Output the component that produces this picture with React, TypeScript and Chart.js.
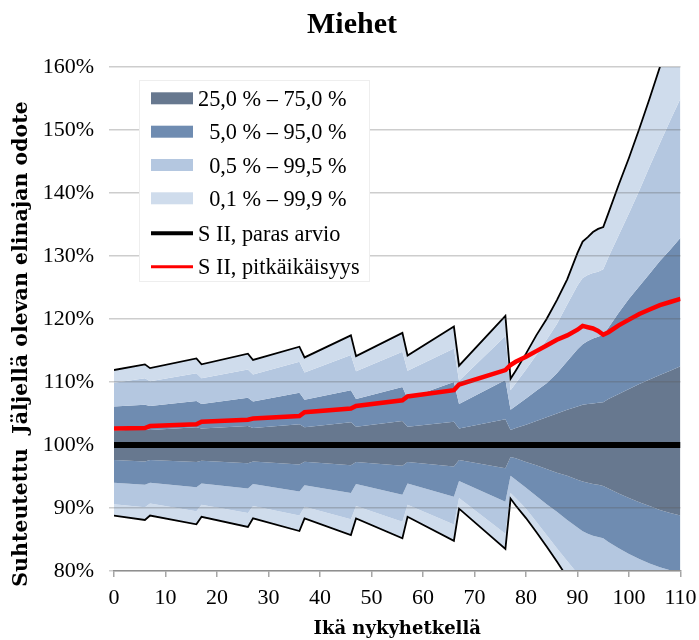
import { useEffect, useRef } from 'react';
import { Chart, registerables } from 'chart.js';

Chart.register(...registerables);

if (typeof document !== 'undefined') {
  document.body.style.margin = '0';
  document.body.style.overflow = 'hidden';
}

// ---- data ----
const chartTitle = 'Miehet';
const xTitle = 'Ikä nykyhetkellä';
const yTitle = 'Suhteutettu  Jäljellä olevan elinajan odote';

const years = [0, 6, 7, 16, 17, 26, 27, 36, 37, 46, 47, 56, 57, 66, 67, 76, 77, 78, 80, 82, 84, 86, 88, 90, 91, 92, 93, 94, 95, 96, 98, 100, 102, 104, 106, 108, 110];

const p999 = [111.9, 112.8, 112.2, 113.75, 112.8, 114.5, 113.5, 115.6, 113.9, 117.4, 114.1, 117.8, 114.2, 118.8, 112.6, 120.5, 110.5, 111.8, 114.5, 117.4, 120.0, 123.0, 126.3, 130.5, 132.3, 133.0, 133.8, 134.3, 134.6, 136.8, 141.3, 145.6, 150.2, 155.0, 160.0, 165.2, 170.5];
const p995 = [109.9, 110.6, 110.1, 111.4, 110.6, 112.0, 111.2, 113.2, 111.5, 114.3, 111.7, 114.8, 111.8, 115.3, 110.2, 117.3, 108.7, 109.8, 112.0, 114.3, 116.7, 119.2, 122.3, 125.3, 126.5, 127.0, 127.3, 127.5, 127.9, 129.8, 133.3, 136.8, 140.4, 144.2, 147.9, 151.5, 155.0];
const p95 = [106.1, 106.4, 106.2, 107.0, 106.5, 107.5, 106.9, 108.3, 107.2, 108.7, 107.3, 109.2, 107.4, 110.0, 106.5, 110.3, 105.6, 106.2, 107.4, 108.6, 109.8, 111.4, 113.3, 115.2, 116.0, 116.5, 116.9, 117.2, 117.5, 118.6, 121.0, 123.2, 125.2, 127.2, 129.2, 131.0, 132.9];
const p75 = [102.3, 102.5, 102.4, 102.8, 102.6, 103.0, 102.7, 103.3, 102.8, 103.6, 102.9, 103.8, 102.9, 103.7, 102.6, 104.1, 102.4, 102.7, 103.2, 103.8, 104.4, 105.0, 105.6, 106.1, 106.4, 106.5, 106.6, 106.7, 106.8, 107.3, 108.1, 108.9, 109.7, 110.4, 111.1, 111.8, 112.5];
const p25 = [97.6, 97.4, 97.6, 97.3, 97.5, 97.1, 97.4, 96.9, 97.35, 96.8, 97.3, 96.7, 97.3, 96.6, 97.6, 96.3, 98.1, 97.9, 97.3, 96.8, 96.2, 95.6, 95.1, 94.5, 94.2, 94.0, 93.8, 93.7, 93.5, 93.1, 92.3, 91.6, 90.9, 90.3, 89.7, 89.2, 88.8];
const p5 = [94.0, 93.7, 94.0, 93.3, 93.9, 93.1, 93.8, 92.6, 93.6, 92.4, 93.8, 92.1, 93.9, 91.8, 94.3, 91.0, 95.1, 94.5, 93.2, 91.9, 90.6, 89.4, 88.1, 86.9, 86.3, 85.9, 85.6, 85.4, 85.2, 84.6, 83.6, 82.7, 81.9, 81.2, 80.6, 80.1, 79.7];
const p05 = [90.6, 90.1, 90.7, 89.5, 90.5, 89.2, 90.3, 88.8, 90.2, 88.2, 90.3, 87.8, 90.5, 87.4, 91.6, 85.9, 92.4, 91.6, 89.9, 87.8, 85.7, 83.6, 81.6, 79.6, 78.7, 77.9, 77.2, 76.8, 76.4, 75.6, 74.0, 72.5, 71.0, 69.6, 68.3, 67.0, 65.8];
const p001 = [88.8, 88.1, 88.8, 87.4, 88.6, 87.0, 88.35, 86.35, 88.35, 85.7, 88.35, 85.2, 88.6, 84.8, 89.9, 83.5, 91.5, 90.4, 88.4, 86.2, 83.9, 81.5, 79.0, 76.5, 75.3, 74.2, 73.3, 72.6, 72.2, 71.3, 69.3, 67.3, 65.5, 63.6, 61.8, 60.0, 58.0];
const longevity = [102.6, 102.7, 103.0, 103.3, 103.7, 104.0, 104.2, 104.6, 105.2, 105.8, 106.2, 107.1, 107.7, 108.7, 109.6, 111.9, 112.7, 113.2, 114.0, 114.9, 115.8, 116.7, 117.4, 118.3, 118.9, 118.7, 118.5, 118.1, 117.5, 117.9, 119.0, 119.9, 120.8, 121.5, 122.2, 122.7, 123.2];
const bestYears = [0, 110];
const bestEstimate = [100, 100];

const legendLabels = ['25,0 % – 75,0 %', '5,0 % – 95,0 %', '0,5 % – 99,5 %', '0,1 % – 99,9 %', 'S II, paras arvio', 'S II, pitkäikäisyys'];

const C_DARK = '#67788f';
const C_MID = '#6f8cb1';
const C_LIGHT = '#b4c7e0';
const C_LIGHTEST = '#cfdcec';
const C_RED = '#ff0000';
const C_BLACK = '#000000';

const SERIF = "'Liberation Serif', serif";
const SERIF_B = "'DejaVu Serif', serif";

const pts = (xs: number[], ys: number[]) => xs.map((x, i) => ({ x, y: ys[i] }));

const overlayPlugin = {
  id: 'overlay',
  afterDraw(chart: any) {
    const ctx = chart.ctx as CanvasRenderingContext2D;
    ctx.save();
    // title
    ctx.fillStyle = '#000';
    ctx.font = `bold 30px ${SERIF}`;
    ctx.textAlign = 'center';
    ctx.textBaseline = 'alphabetic';
    ctx.fillText(chartTitle, 352, 33);

    // y axis title
    ctx.save();
    ctx.translate(22, 344);
    ctx.rotate(-Math.PI / 2);
    ctx.font = `bold 20.5px ${SERIF_B}`;
    ctx.textAlign = 'center';
    ctx.textBaseline = 'middle';
    ctx.fillText(yTitle, 0, 0);
    ctx.restore();

    // legend box
    ctx.fillStyle = '#ffffff';
    ctx.fillRect(139, 80, 231, 202);
    ctx.strokeStyle = '#eeeeee';
    ctx.lineWidth = 1;
    ctx.strokeRect(139.5, 80.5, 230, 201);

    const rows = [98.3, 131.7, 165, 198.3, 233.3, 266.7];
    const bandColors = [C_DARK, C_MID, C_LIGHT, C_LIGHTEST];
    ctx.font = `22.3px ${SERIF}`;
    ctx.fillStyle = '#000';
    const textX = 198;
    const firstW = ctx.measureText(legendLabels[0]).width;
    for (let i = 0; i < 6; i++) {
      const y = rows[i];
      if (i < 4) {
        ctx.fillStyle = bandColors[i];
        ctx.fillRect(151, y - 6, 42, 12);
      } else {
        ctx.strokeStyle = i === 4 ? C_BLACK : C_RED;
        ctx.lineWidth = i === 4 ? 4 : 3;
        ctx.beginPath();
        ctx.moveTo(151, y);
        ctx.lineTo(193, y);
        ctx.stroke();
      }
      ctx.fillStyle = '#000';
      if (i >= 1 && i <= 3) {
        ctx.textAlign = 'right';
        ctx.fillText(legendLabels[i], textX + firstW, y + 7.5);
      } else {
        ctx.textAlign = 'left';
        ctx.fillText(legendLabels[i], textX, y + 7.5);
      }
    }
    ctx.restore();
  },
};

export default function App() {
  const ref = useRef<HTMLCanvasElement>(null);
  useEffect(() => {
    if (!ref.current) return;
    const band = (label: string, data: number[], color: string, fill: any, edge = false) => ({
      label,
      data: pts(years, data),
      backgroundColor: color,
      borderColor: edge ? C_BLACK : 'rgba(0,0,0,0)',
      borderWidth: edge ? 1.8 : 0,
      fill,
      pointRadius: 0,
      tension: 0,
    });
    const chart = new Chart(ref.current, {
      type: 'line',
      data: {
        datasets: [
          {
            label: legendLabels[5],
            data: pts(years, longevity),
            borderColor: C_RED,
            borderWidth: 4.5,
            pointRadius: 0,
            fill: false,
            tension: 0,
          },
          {
            label: legendLabels[4],
            data: pts(bestYears, bestEstimate),
            borderColor: C_BLACK,
            borderWidth: 6,
            pointRadius: 0,
            fill: false,
          },
          band('99,9 %', p999, C_LIGHTEST, '+1', true),
          band('99,5 %', p995, C_LIGHT, '+1'),
          band('95,0 %', p95, C_MID, '+1'),
          band('75,0 %', p75, C_DARK, '+1'),
          band('25,0 %', p25, C_MID, '+1'),
          band('5,0 %', p5, C_LIGHT, '+1'),
          band('0,5 %', p05, C_LIGHTEST, '+1'),
          band('0,1 %', p001, C_LIGHTEST, false, true),
        ] as any,
      },
      options: {
        responsive: false,
        animation: false,
        layout: { padding: { left: 0, right: 18.5, top: 67, bottom: 0 } },
        plugins: {
          legend: { display: false },
          tooltip: { enabled: false },
          title: { display: false },
          filler: { drawTime: 'beforeDatasetsDraw', propagate: false },
        } as any,
        scales: {
          x: {
            type: 'linear',
            min: 0,
            max: 110,
            ticks: { stepSize: 10, color: '#000', font: { family: SERIF, size: 22 }, padding: 8, maxRotation: 0 },
            grid: { drawOnChartArea: false, drawTicks: true, tickLength: 6, color: '#a6a6a6', lineWidth: 1.5, z: 1 },
            border: { display: true, color: '#a6a6a6', width: 1.5, z: 1 },
            title: { display: true, text: xTitle, color: '#000', font: { family: SERIF_B, size: 18, weight: 'bold' }, padding: { top: 0, bottom: 0 } },
            afterFit: (s: any) => {
              s.height = 69;
              s.paddingRight = 0;
              s.paddingLeft = 0;
            },
          },
          y: {
            type: 'linear',
            min: 80,
            max: 160,
            ticks: { stepSize: 10, color: '#000', font: { family: SERIF, size: 22 }, padding: 15, callback: (v: any) => `${v}%` },
            grid: {
              color: (c: any) => (c.tick && c.tick.value === 100 ? 'rgba(0,0,0,0)' : 'rgba(90,90,90,0.3)'),
              lineWidth: 1.5,
              tickLength: 5,
              z: 1,
            },
            border: { display: false },
            title: { display: false },
            afterFit: (s: any) => {
              s.width = 114;
              s.paddingTop = 0;
              s.paddingBottom = 0;
            },
          },
        } as any,
      },
      plugins: [overlayPlugin],
    });
    return () => chart.destroy();
  }, []);
  return (
    <div style={{ width: 699, height: 640 }}>
      <canvas ref={ref} width={699} height={640} style={{ display: 'block' }} aria-label={`${chartTitle} – ${yTitle}`} />
    </div>
  );
}
